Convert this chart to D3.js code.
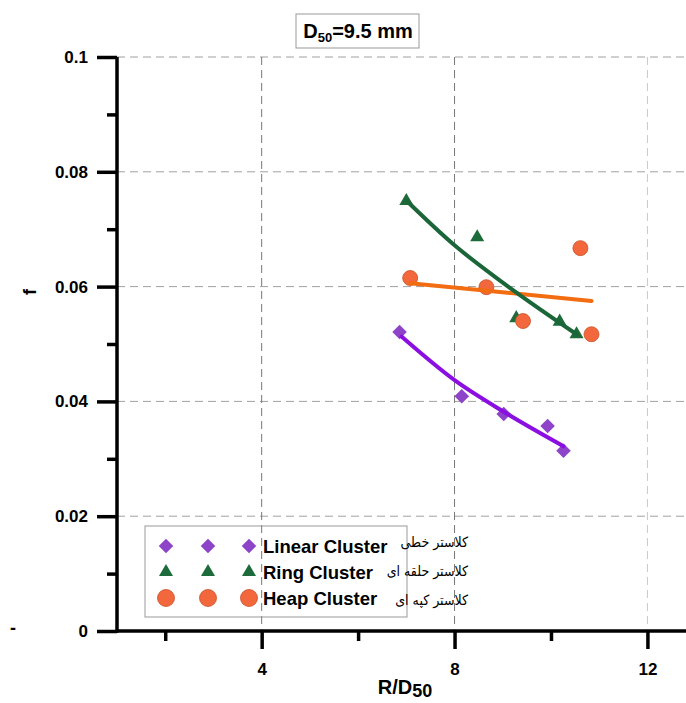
<!DOCTYPE html>
<html lang="en">

<head>
    <meta charset="UTF-8">
    <title>f vs R/D50</title>
    <script src="https://d3js.org/d3.v7.min.js"></script>
    <style>
        body { margin: 0; background: #fff; }
        text { font-family: "Liberation Sans", Arial, sans-serif; }
    </style>
</head>

<body>
    <script>
        // Dane
        var seriesNames = ["Linear Cluster", "Ring Cluster", "Heap Cluster"];
        var persianNames = ["کلاستر خطی", "کلاستر حلقه ای", "کلاستر کپه ای"];

        var linearX = [6.86, 8.15, 9.02, 9.93, 10.26];
        var linearY = [0.0521, 0.0409, 0.0378, 0.0357, 0.0314];
        var ringX = [7.0, 8.47, 9.28, 10.18, 10.53];
        var ringY = [0.0749, 0.0686, 0.0545, 0.0539, 0.0517];
        var heapX = [7.08, 8.66, 9.42, 10.61, 10.84];
        var heapY = [0.0615, 0.0599, 0.0540, 0.0667, 0.0517];

        // Linie trendu
        var linearFitX = [6.9, 8.0, 9.02, 10.26];
        var linearFitY = [0.0513, 0.0437, 0.0382, 0.0322];
        var ringFitX = [7.0, 8.0, 9.0, 10.53];
        var ringFitY = [0.0750, 0.0672, 0.0607, 0.0517];
        var heapFitX = [7.08, 10.84];
        var heapFitY = [0.0606, 0.0575];

        var xMajor = [4, 8, 12];
        var xMinor = [2, 6, 10];
        var yMajor = [0, 0.02, 0.04, 0.06, 0.08, 0.1];
        var yMinor = [0.01, 0.03, 0.05, 0.07, 0.09];
        var yLabels = ["0", "0.02", "0.04", "0.06", "0.08", "0.1"];

        var width = 686, height = 703;
        var colPurple = "#8e44c8", colPurpleLine = "#8a0fe0";
        var colGreen = "#1d6b3a", colGreenLine = "#1a6638";
        var colOrange = "#f2683c", colOrangeLine = "#f26c12";

        var svg = d3.select("body").append("svg")
            .attr("width", width)
            .attr("height", height);

        var x = d3.scaleLinear().domain([1, 12.8]).range([117, 686]);
        var y = d3.scaleLinear().domain([0, 0.1]).range([631, 57]);

        // Siatka
        svg.selectAll("line.hgrid")
            .data(yMajor.slice(1))
            .enter().append("line")
            .attr("class", "hgrid")
            .attr("x1", x(1)).attr("x2", width)
            .attr("y1", d => y(d)).attr("y2", d => y(d))
            .attr("stroke", "#a0a0a0").attr("stroke-width", 1)
            .attr("stroke-dasharray", "8,5");

        svg.selectAll("line.vgrid")
            .data(xMajor)
            .enter().append("line")
            .attr("class", "vgrid")
            .attr("x1", d => x(d)).attr("x2", d => x(d))
            .attr("y1", y(0.1)).attr("y2", y(0))
            .attr("stroke", d => d === 12 ? "#c8c8c8" : "#777")
            .attr("stroke-width", 1)
            .attr("stroke-dasharray", "8,5");

        // Osie
        var xAxis = svg.append("g")
            .attr("transform", `translate(0,${y(0)})`)
            .call(d3.axisBottom(x).tickValues(xMajor).tickSize(18).tickPadding(14).tickFormat(d3.format("d")));
        xAxis.select(".domain").attr("stroke-width", 3.5).attr("d", `M${x(1)},0H${width}`);
        xAxis.selectAll(".tick line").attr("stroke-width", 3.5);
        xAxis.selectAll(".tick text").style("font-size", "17px").style("font-weight", "bold");

        var xMinorAxis = svg.append("g")
            .attr("transform", `translate(0,${y(0)})`)
            .call(d3.axisBottom(x).tickValues(xMinor).tickSize(10).tickFormat(""));
        xMinorAxis.select(".domain").remove();
        xMinorAxis.selectAll(".tick line").attr("stroke-width", 3.5);

        var yAxis = svg.append("g")
            .attr("transform", `translate(${x(1)},0)`)
            .call(d3.axisLeft(y).tickValues(yMajor).tickSize(20).tickPadding(9).tickFormat((d, i) => yLabels[i]));
        yAxis.select(".domain").attr("stroke-width", 3.5).attr("d", `M0,${y(0.1)}V${y(0) + 1.75}`);
        yAxis.selectAll(".tick line").attr("stroke-width", 3.5);
        yAxis.selectAll(".tick text").style("font-size", "17px").style("font-weight", "bold");

        var yMinorAxis = svg.append("g")
            .attr("transform", `translate(${x(1)},0)`)
            .call(d3.axisLeft(y).tickValues(yMinor).tickSize(10).tickFormat(""));
        yMinorAxis.select(".domain").remove();
        yMinorAxis.selectAll(".tick line").attr("stroke-width", 3.5);

        // Etykiety osi
        var xLab = svg.append("text")
            .attr("x", 405).attr("y", 694)
            .attr("text-anchor", "middle")
            .style("font-size", "20px").style("font-weight", "bold")
            .text("R/D");
        xLab.append("tspan").attr("dy", 3).style("font-size", "18px").text("50");

        svg.append("text")
            .attr("transform", "translate(36,292) rotate(-90)")
            .attr("text-anchor", "middle")
            .style("font-size", "18px").style("font-weight", "bold")
            .text("f");

        svg.append("text")
            .attr("x", 13).attr("y", 634)
            .attr("text-anchor", "middle")
            .style("font-size", "18px").style("font-weight", "bold")
            .text("-");

        // Tytul w ramce
        svg.append("rect")
            .attr("x", 296).attr("y", 14).attr("width", 123).attr("height", 34)
            .attr("fill", "#fff").attr("stroke", "#999").attr("stroke-width", 1);
        var title = svg.append("text")
            .attr("x", 358).attr("y", 38)
            .attr("text-anchor", "middle")
            .style("font-size", "20px").style("font-weight", "bold")
            .text("D");
        title.append("tspan").attr("dy", 4).style("font-size", "13px").text("50");
        title.append("tspan").attr("dy", -4).text("=9.5 mm");

        // Symbole
        var diamond = d3.symbol().type(d3.symbolDiamond2).size(135);
        var triangle = d3.symbol().type(d3.symbolTriangle).size(85);

        function pts(xs, ys) { return xs.map((v, i) => [v, ys[i]]); }

        var line = d3.line().x(d => x(d[0])).y(d => y(d[1])).curve(d3.curveMonotoneX);

        // Ring Cluster - punkty
        svg.selectAll("path.ring")
            .data(pts(ringX, ringY))
            .enter().append("path")
            .attr("class", "ring")
            .attr("d", triangle)
            .attr("transform", d => `translate(${x(d[0])},${y(d[1])})`)
            .attr("fill", colGreen);

        // Heap Cluster - punkty
        svg.selectAll("circle.heap")
            .data(pts(heapX, heapY))
            .enter().append("circle")
            .attr("class", "heap")
            .attr("cx", d => x(d[0])).attr("cy", d => y(d[1]))
            .attr("r", 7.5)
            .attr("fill", colOrange).attr("stroke", "#c9502a").attr("stroke-width", 0.8);

        svg.append("path")
            .datum(pts(heapFitX, heapFitY))
            .attr("d", line)
            .attr("fill", "none").attr("stroke", colOrangeLine).attr("stroke-width", 4)
            .attr("stroke-linecap", "round");

        svg.append("path")
            .datum(pts(ringFitX, ringFitY))
            .attr("d", line)
            .attr("fill", "none").attr("stroke", colGreenLine).attr("stroke-width", 4)
            .attr("stroke-linecap", "round");

        // Linear Cluster - punkty
        svg.selectAll("path.linear")
            .data(pts(linearX, linearY))
            .enter().append("path")
            .attr("class", "linear")
            .attr("d", diamond)
            .attr("transform", d => `translate(${x(d[0])},${y(d[1])})`)
            .attr("fill", colPurple);

        svg.append("path")
            .datum(pts(linearFitX, linearFitY))
            .attr("d", line)
            .attr("fill", "none").attr("stroke", colPurpleLine).attr("stroke-width", 4)
            .attr("stroke-linecap", "round");

        // Legenda
        var legend = svg.append("g");
        legend.append("rect")
            .attr("x", 145).attr("y", 526).attr("width", 262).attr("height", 91)
            .attr("fill", "none").attr("stroke", "#999").attr("stroke-width", 1);

        var legRows = [546, 572, 598];
        var legSymX = [166, 208, 249];
        legSymX.forEach(function (sx) {
            legend.append("path").attr("d", diamond)
                .attr("transform", `translate(${sx},${legRows[0]})`).attr("fill", colPurple);
            legend.append("path").attr("d", triangle)
                .attr("transform", `translate(${sx},${legRows[1]})`).attr("fill", colGreen);
            legend.append("circle").attr("cx", sx).attr("cy", legRows[2]).attr("r", 8.5)
                .attr("fill", colOrange).attr("stroke", "#c9502a").attr("stroke-width", 0.8);
        });

        legend.selectAll("text.leg")
            .data(seriesNames)
            .enter().append("text")
            .attr("class", "leg")
            .attr("x", 263).attr("y", (d, i) => legRows[i] + 6.5)
            .style("font-size", "18.5px").style("font-weight", "bold")
            .text(d => d);

        var perRows = [547, 576, 605];
        svg.selectAll("text.per")
            .data(persianNames)
            .enter().append("text")
            .attr("class", "per")
            .attr("x", 468).attr("y", (d, i) => perRows[i])
            .attr("text-anchor", "end")
            .style("font-family", "'DejaVu Sans Condensed', 'DejaVu Sans', sans-serif")
            .style("font-size", "14px")
            .text(d => d);
    </script>
</body>

</html>
